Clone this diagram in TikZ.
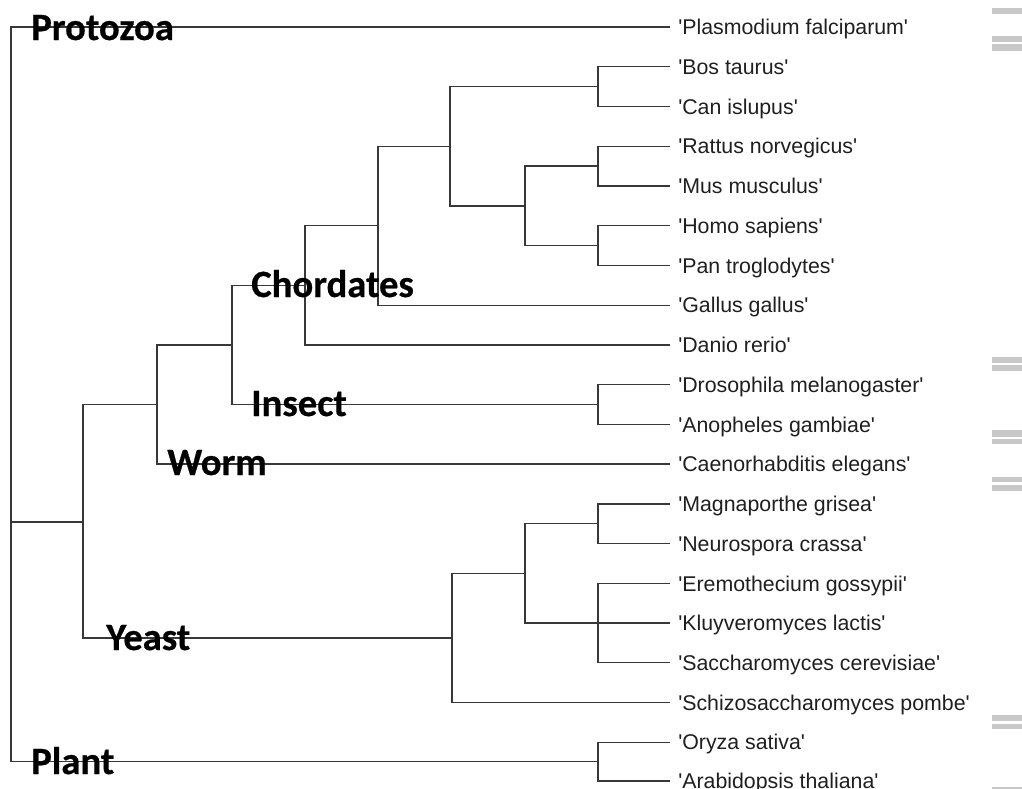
\documentclass[tikz,border=0pt]{standalone}
\usepackage{fontspec}
\newfontfamily\leaffont{Liberation Sans}
\newfontfamily\groupfont[FakeBold=0.5]{Carlito Bold}
\definecolor{branchgray}{HTML}{383838}
\definecolor{markgray}{HTML}{C8C8C8}
\newcommand{\qname}[1]{\textquotesingle#1\textquotesingle}
\tikzset{
  branch/.style={draw=branchgray, line width=1pt},
  leaf/.style={anchor=west, inner xsep=6pt, inner ysep=0pt, text height=11.5pt, text depth=0pt,
    font=\leaffont\fontsize{16}{19}\selectfont, text=black!88},
  group/.style={anchor=base west, inner sep=0pt, font=\groupfont\fontsize{29}{33}\selectfont},
}

\begin{document}
\begin{tikzpicture}[x=0.75pt,y=-0.75pt]
        \useasboundingbox (0,0) rectangle (1022,789);
        %leaves
        \node[leaf] (plas) at (670,27) {\qname{Plasmodium falciparum}};
        \node[leaf] (bos) at (670,66.7) {\qname{Bos taurus}};
        \node[leaf] (can) at (670,106.5) {\qname{Can islupus}};
        \node[leaf] (rat) at (670,146.2) {\qname{Rattus norvegicus}};
        \node[leaf] (mus) at (670,186) {\qname{Mus musculus}};
        \node[leaf] (homo) at (670,225.7) {\qname{Homo sapiens}};
        \node[leaf] (pan) at (670,265.4) {\qname{Pan troglodytes}};
        \node[leaf] (gallus) at (670,305.2) {\qname{Gallus gallus}};
        \node[leaf] (danio) at (670,344.9) {\qname{Danio rerio}};
        \node[leaf] (droso) at (670,384.7) {\qname{Drosophila melanogaster}};
        \node[leaf] (anoph) at (670,424.4) {\qname{Anopheles gambiae}};
        \node[leaf] (caeno) at (670,464.1) {\qname{Caenorhabditis elegans}};
        \node[leaf] (magna) at (670,503.9) {\qname{Magnaporthe grisea}};
        \node[leaf] (neuro) at (670,543.6) {\qname{Neurospora crassa}};
        \node[leaf] (eremo) at (670,583.4) {\qname{Eremothecium gossypii}};
        \node[leaf] (kluy) at (670,623.1) {\qname{Kluyveromyces lactis}};
        \node[leaf] (sacch) at (670,662.8) {\qname{Saccharomyces cerevisiae}};
        \node[leaf] (schizo) at (670,702.6) {\qname{Schizosaccharomyces pombe}};
        \node[leaf] (oryza) at (670,742.3) {\qname{Oryza sativa}};
        \node[leaf] (arabi) at (670,781) {\qname{Arabidopsis thaliana}};
        %inner nodes
        \coordinate (root) at (11,522);
        \coordinate (euk) at (83,522);
        \coordinate (opis) at (157,404.5);
        \coordinate (bilat) at (232,344.9);
        \coordinate (chord) at (305,285.3);
        \coordinate (amnio) at (378,225.7);
        \coordinate (mammal) at (450,146.2);
        \coordinate (laura) at (598,86.6);
        \coordinate (euarch) at (525,205.9);
        \coordinate (rodent) at (598,166.1);
        \coordinate (primate) at (598,245.6);
        \coordinate (insect) at (598,404.5);
        \coordinate (fungi) at (452,638.1);
        \coordinate (asco) at (525,573.5);
        \coordinate (sordar) at (598,523.7);
        \coordinate (saccha) at (598,623.1);
        \coordinate (plant) at (598,761.7);
        %root
        \draw[branch] (root) |- (plas.west);
        \draw[branch] (root) -- (euk);
        \draw[branch] (root) |- (plant);
        %eukaryote split
        \draw[branch] (euk) |- (opis);
        \draw[branch] (euk) |- (fungi);
        \draw[branch] (opis) |- (bilat);
        \draw[branch] (opis) |- (caeno.west);
        \draw[branch] (bilat) |- (chord);
        \draw[branch] (bilat) |- (insect);
        %chordates
        \draw[branch] (chord) |- (amnio);
        \draw[branch] (chord) |- (danio.west);
        \draw[branch] (amnio) |- (mammal);
        \draw[branch] (amnio) |- (gallus.west);
        \draw[branch] (mammal) |- (laura);
        \draw[branch] (mammal) |- (euarch);
        \draw[branch] (laura) |- (bos.west);
        \draw[branch] (laura) |- (can.west);
        \draw[branch] (euarch) |- (rodent);
        \draw[branch] (euarch) |- (primate);
        \draw[branch] (rodent) |- (rat.west);
        \draw[branch] (rodent) |- (mus.west);
        \draw[branch] (primate) |- (homo.west);
        \draw[branch] (primate) |- (pan.west);
        %insects
        \draw[branch] (insect) |- (droso.west);
        \draw[branch] (insect) |- (anoph.west);
        %yeast
        \draw[branch] (fungi) |- (asco);
        \draw[branch] (fungi) |- (schizo.west);
        \draw[branch] (asco) |- (sordar);
        \draw[branch] (asco) |- (saccha);
        \draw[branch] (sordar) |- (magna.west);
        \draw[branch] (sordar) |- (neuro.west);
        \draw[branch] (saccha) |- (eremo.west);
        \draw[branch] (saccha) -- (kluy.west);
        \draw[branch] (saccha) |- (sacch.west);
        %plant
        \draw[branch] (plant) |- (oryza.west);
        \draw[branch] (plant) |- (arabi.west);
        %group names
        \node[group] (protozoa) at (31,40) {Protozoa};
        \node[group] (chordates) at (251,297) {Chordates};
        \node[group] (insecta) at (251,416) {Insect};
        \node[group] (worm) at (167,475) {Worm};
        \node[group] (yeast) at (106,650) {Yeast};
        \node[group] (plantae) at (31,774) {Plant};
        %marks at the right edge
        \fill[markgray] (992,8) rectangle (1022,14);
        \fill[markgray] (992,36) rectangle (1022,42);
        \fill[markgray] (992,44) rectangle (1022,51);
        \fill[markgray] (992,357) rectangle (1022,363);
        \fill[markgray] (992,365) rectangle (1022,371);
        \fill[markgray] (992,430) rectangle (1022,437);
        \fill[markgray] (992,439) rectangle (1022,444);
        \fill[markgray] (992,477) rectangle (1022,482);
        \fill[markgray] (992,485) rectangle (1022,491);
        \fill[markgray] (992,715) rectangle (1022,721);
        \fill[markgray] (992,724) rectangle (1022,729);
        \fill[markgray] (992,787) rectangle (1022,789);
    \end{tikzpicture}
\end{document}
